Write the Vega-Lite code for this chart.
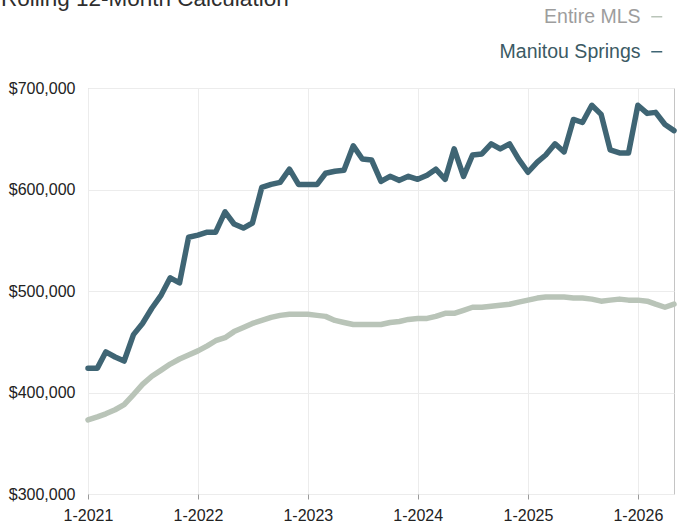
{
  "$schema": "https://vega.github.io/schema/vega-lite/v6.json",
  "width": 586,
  "height": 406,
  "autosize": {"type": "none"},
  "padding": {"left": 88, "top": 88, "right": 14, "bottom": 31},
  "background": "white",
  "config": {
    "font": "Liberation Sans",
    "view": {"stroke": "#c4c4c4", "strokeWidth": 1}
  },
  "title": {
    "text": "Rolling 12-Month Calculation",
    "anchor": "start",
    "frame": "group",
    "dx": -87,
    "dy": 22,
    "offset": 1,
    "baseline": "alphabetic",
    "fontSize": 22.5,
    "fontWeight": "normal",
    "font": "Liberation Sans",
    "color": "#2e2e2e"
  },
  "data": {
    "values": [
      {"date": "2021-01", "Entire MLS": 373000, "Manitou Springs": 424000},
      {"date": "2021-02", "Entire MLS": 376000, "Manitou Springs": 424000},
      {"date": "2021-03", "Entire MLS": 379000, "Manitou Springs": 440000},
      {"date": "2021-04", "Entire MLS": 383000, "Manitou Springs": 435000},
      {"date": "2021-05", "Entire MLS": 388000, "Manitou Springs": 431000},
      {"date": "2021-06", "Entire MLS": 398000, "Manitou Springs": 457000},
      {"date": "2021-07", "Entire MLS": 408000, "Manitou Springs": 468000},
      {"date": "2021-08", "Entire MLS": 416000, "Manitou Springs": 483000},
      {"date": "2021-09", "Entire MLS": 422000, "Manitou Springs": 496000},
      {"date": "2021-10", "Entire MLS": 428000, "Manitou Springs": 513000},
      {"date": "2021-11", "Entire MLS": 433000, "Manitou Springs": 508000},
      {"date": "2021-12", "Entire MLS": 437000, "Manitou Springs": 553000},
      {"date": "2022-01", "Entire MLS": 441000, "Manitou Springs": 555000},
      {"date": "2022-02", "Entire MLS": 446000, "Manitou Springs": 558000},
      {"date": "2022-03", "Entire MLS": 451000, "Manitou Springs": 558000},
      {"date": "2022-04", "Entire MLS": 454000, "Manitou Springs": 578000},
      {"date": "2022-05", "Entire MLS": 460000, "Manitou Springs": 566000},
      {"date": "2022-06", "Entire MLS": 464000, "Manitou Springs": 562000},
      {"date": "2022-07", "Entire MLS": 468000, "Manitou Springs": 567000},
      {"date": "2022-08", "Entire MLS": 471000, "Manitou Springs": 602000},
      {"date": "2022-09", "Entire MLS": 474000, "Manitou Springs": 605000},
      {"date": "2022-10", "Entire MLS": 476000, "Manitou Springs": 607000},
      {"date": "2022-11", "Entire MLS": 477000, "Manitou Springs": 620000},
      {"date": "2022-12", "Entire MLS": 477000, "Manitou Springs": 605000},
      {"date": "2023-01", "Entire MLS": 477000, "Manitou Springs": 605000},
      {"date": "2023-02", "Entire MLS": 476000, "Manitou Springs": 605000},
      {"date": "2023-03", "Entire MLS": 475000, "Manitou Springs": 616000},
      {"date": "2023-04", "Entire MLS": 471000, "Manitou Springs": 618000},
      {"date": "2023-05", "Entire MLS": 469000, "Manitou Springs": 619000},
      {"date": "2023-06", "Entire MLS": 467000, "Manitou Springs": 643000},
      {"date": "2023-07", "Entire MLS": 467000, "Manitou Springs": 630000},
      {"date": "2023-08", "Entire MLS": 467000, "Manitou Springs": 629000},
      {"date": "2023-09", "Entire MLS": 467000, "Manitou Springs": 608000},
      {"date": "2023-10", "Entire MLS": 469000, "Manitou Springs": 613000},
      {"date": "2023-11", "Entire MLS": 470000, "Manitou Springs": 609000},
      {"date": "2023-12", "Entire MLS": 472000, "Manitou Springs": 613000},
      {"date": "2024-01", "Entire MLS": 473000, "Manitou Springs": 610000},
      {"date": "2024-02", "Entire MLS": 473000, "Manitou Springs": 614000},
      {"date": "2024-03", "Entire MLS": 475000, "Manitou Springs": 620000},
      {"date": "2024-04", "Entire MLS": 478000, "Manitou Springs": 610000},
      {"date": "2024-05", "Entire MLS": 478000, "Manitou Springs": 640000},
      {"date": "2024-06", "Entire MLS": 481000, "Manitou Springs": 613000},
      {"date": "2024-07", "Entire MLS": 484000, "Manitou Springs": 634000},
      {"date": "2024-08", "Entire MLS": 484000, "Manitou Springs": 635000},
      {"date": "2024-09", "Entire MLS": 485000, "Manitou Springs": 645000},
      {"date": "2024-10", "Entire MLS": 486000, "Manitou Springs": 640000},
      {"date": "2024-11", "Entire MLS": 487000, "Manitou Springs": 645000},
      {"date": "2024-12", "Entire MLS": 489000, "Manitou Springs": 630000},
      {"date": "2025-01", "Entire MLS": 491000, "Manitou Springs": 617000},
      {"date": "2025-02", "Entire MLS": 493000, "Manitou Springs": 627000},
      {"date": "2025-03", "Entire MLS": 494000, "Manitou Springs": 634000},
      {"date": "2025-04", "Entire MLS": 494000, "Manitou Springs": 645000},
      {"date": "2025-05", "Entire MLS": 494000, "Manitou Springs": 637000},
      {"date": "2025-06", "Entire MLS": 493000, "Manitou Springs": 669000},
      {"date": "2025-07", "Entire MLS": 493000, "Manitou Springs": 666000},
      {"date": "2025-08", "Entire MLS": 492000, "Manitou Springs": 683000},
      {"date": "2025-09", "Entire MLS": 490000, "Manitou Springs": 674000},
      {"date": "2025-10", "Entire MLS": 491000, "Manitou Springs": 639000},
      {"date": "2025-11", "Entire MLS": 492000, "Manitou Springs": 636000},
      {"date": "2025-12", "Entire MLS": 491000, "Manitou Springs": 636000},
      {"date": "2026-01", "Entire MLS": 491000, "Manitou Springs": 683000},
      {"date": "2026-02", "Entire MLS": 490000, "Manitou Springs": 675000},
      {"date": "2026-03", "Entire MLS": 487000, "Manitou Springs": 676000},
      {"date": "2026-04", "Entire MLS": 484000, "Manitou Springs": 664000},
      {"date": "2026-05", "Entire MLS": 487000, "Manitou Springs": 658000}
    ]
  },
  "transform": [
    {"fold": ["Entire MLS", "Manitou Springs"], "as": ["series", "price"]}
  ],
  "mark": {"type": "line", "strokeWidth": 5.5, "strokeJoin": "round", "strokeCap": "round"},
  "encoding": {
    "x": {
      "field": "date",
      "type": "temporal",
      "timeUnit": "utcyearmonth",
      "scale": {
        "domain": [
          {"year": 2021, "month": 1, "date": 1, "utc": true},
          {"year": 2026, "month": 5, "date": 1, "utc": true}
        ],
        "nice": false
      },
      "axis": {
        "title": null,
        "values": [
          {"year": 2021, "month": 1, "date": 1, "utc": true},
          {"year": 2022, "month": 1, "date": 1, "utc": true},
          {"year": 2023, "month": 1, "date": 1, "utc": true},
          {"year": 2024, "month": 1, "date": 1, "utc": true},
          {"year": 2025, "month": 1, "date": 1, "utc": true},
          {"year": 2026, "month": 1, "date": 1, "utc": true}
        ],
        "format": "%-m-%Y",
        "labelFontSize": 16,
        "labelColor": "#222222",
        "labelPadding": 8,
        "labelFont": "Liberation Sans",
        "domain": false,
        "ticks": true,
        "tickSize": 5,
        "tickColor": "#9a9a9a",
        "grid": true,
        "gridColor": "#ececec",
        "labelAngle": 0,
        "labelFlush": false
      }
    },
    "y": {
      "field": "price",
      "type": "quantitative",
      "scale": {"domain": [300000, 700000], "nice": false, "zero": false},
      "axis": {
        "title": null,
        "values": [300000, 400000, 500000, 600000, 700000],
        "format": "$,.0f",
        "labelFontSize": 16,
        "labelColor": "#222222",
        "labelFont": "Liberation Sans",
        "labelPadding": 13,
        "domain": false,
        "ticks": false,
        "grid": true,
        "gridColor": "#ececec"
      }
    },
    "color": {
      "field": "series",
      "type": "nominal",
      "scale": {"domain": ["Entire MLS", "Manitou Springs"], "range": ["#b9c4b8", "#3f6574"]},
      "legend": {
        "orient": "none",
        "legendX": 559,
        "legendY": -81,
        "direction": "vertical",
        "title": null,
        "padding": 0,
        "symbolType": "stroke",
        "symbolSize": 121,
        "symbolStrokeWidth": 1.5,
        "labelFontSize": 19.5,
        "labelFont": "Liberation Sans",
        "labelAlign": "right",
        "labelOffset": -26,
        "labelLimit": 300,
        "rowPadding": 14,
        "encode": {
          "labels": {"update": {"fill": {"signal": "datum.value === 'Entire MLS' ? '#9d9d9d' : '#3b5a64'"}}},
          "symbols": {"update": {"stroke": {"signal": "datum.value === 'Entire MLS' ? '#9d9d9d' : '#3b5a64'"}}}
        }
      }
    }
  }
}
